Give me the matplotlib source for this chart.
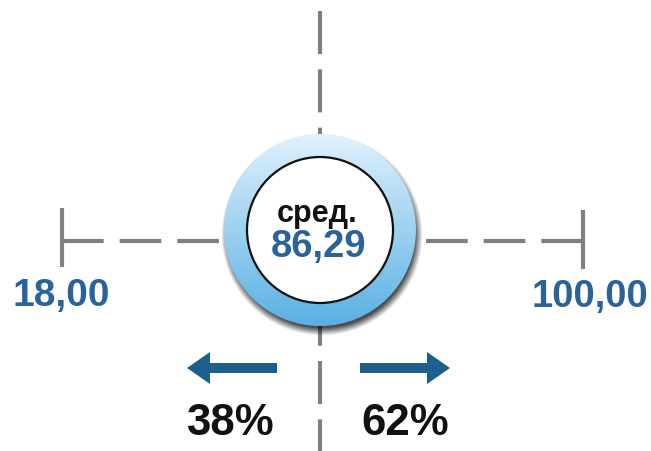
import numpy as np
import matplotlib
matplotlib.use("Agg")
import matplotlib.pyplot as plt
from matplotlib.patches import Circle, FancyArrow

# values shown on the chart
range_min = 18.00
range_max = 100.00
mean_value = 86.29
mean_label = "сред."
share_below = 38
share_above = 62

plt.rcParams["font.family"] = ["Liberation Sans", "DejaVu Sans"]
plt.rcParams["lines.scale_dashes"] = False


def fmt(v):
    return f"{v:.2f}".replace(".", ",")


fig = plt.figure(figsize=(6.51, 4.52), dpi=100)
ax = fig.add_axes([0, 0, 1, 1])
ax.set_xlim(0, 651)
ax.set_ylim(452, 0)
ax.axis("off")

gray = "#808080"
blue_txt = "#2a639c"
arrow_col = "#1c5f88"

# layout (pixels)
cx, cy = 320, 231
r_out, r_in = 96, 73
hy = 242
x_left, x_right = 62, 583

# vertical dashed axis
ax.plot([320, 320], [12, 452], color=gray, lw=3, dashes=(31, 11), zorder=1)
# horizontal dashed axis, drawn out from each end cap
ax.plot([x_left, cx], [hy, hy], color=gray, lw=3, dashes=(30, 11.5), zorder=1)
ax.plot([x_right, cx], [hy, hy], color=gray, lw=3, dashes=(30, 11.5), zorder=1)
ax.plot([x_left, x_left], [209, 268], color=gray, lw=3, solid_capstyle="butt", zorder=1)
ax.plot([x_right, x_right], [211, 270], color=gray, lw=3, solid_capstyle="butt", zorder=1)

# soft shadow under the ring
n = 300
ext = r_out + 16
xs = np.linspace(cx - ext, cx + ext, n)
ys = np.linspace(cy - ext, cy + ext, n)
X, Y = np.meshgrid(xs, ys)
d = np.hypot(X - (cx + 2), Y - (cy + 5))
alpha = np.clip((r_out + 5 - d) / 8, 0, 1) * 0.7
shadow = np.zeros((n, n, 4))
shadow[..., 3] = alpha
ax.imshow(shadow, extent=(cx - ext, cx + ext, cy + ext, cy - ext),
          origin="upper", zorder=2, interpolation="bilinear")

# gradient ring
top = np.array([0.88, 0.95, 0.99])
bot = np.array([0.35, 0.69, 0.89])
t = np.linspace(0, 1, 256)[:, None]
grad = (top[None, :] * (1 - t) + bot[None, :] * t)[:, None, :]
grad = np.repeat(grad, 2, axis=1)
img = ax.imshow(grad, extent=(cx - r_out, cx + r_out, cy + r_out, cy - r_out),
                origin="upper", zorder=3, aspect="auto", interpolation="bilinear")
clip = Circle((cx, cy), r_out, transform=ax.transData)
img.set_clip_path(clip)

# inner white disc
ax.add_patch(Circle((cx, cy), r_in, fc="white", ec="#111111", lw=1.6, zorder=5))

ax.text(cx - 3, 222, mean_label, ha="center", va="baseline", fontsize=22,
        fontweight="bold", color="#111111", zorder=6)
ax.text(cx - 2, 257, fmt(mean_value), ha="center", va="baseline", fontsize=27.5,
        fontweight="bold", color=blue_txt, zorder=6)

# range labels
ax.text(61, 306, fmt(range_min), ha="center", va="baseline", fontsize=28,
        fontweight="bold", color=blue_txt)
ax.text(590, 307, fmt(range_max), ha="center", va="baseline", fontsize=27.5,
        fontweight="bold", color=blue_txt)

# direction arrows
ax.add_patch(FancyArrow(277, 369, -67, 0, width=10, head_width=32, head_length=23,
                        length_includes_head=False, color=arrow_col, lw=0))
ax.add_patch(FancyArrow(360, 369, 67, 0, width=10, head_width=32, head_length=23,
                        length_includes_head=False, color=arrow_col, lw=0))

ax.text(230, 435, f"{share_below}%", ha="center", va="baseline", fontsize=31.5,
        fontweight="bold", color="#111111")
ax.text(405, 435, f"{share_above}%", ha="center", va="baseline", fontsize=31.5,
        fontweight="bold", color="#111111")

fig.savefig("out.png", dpi=100)
